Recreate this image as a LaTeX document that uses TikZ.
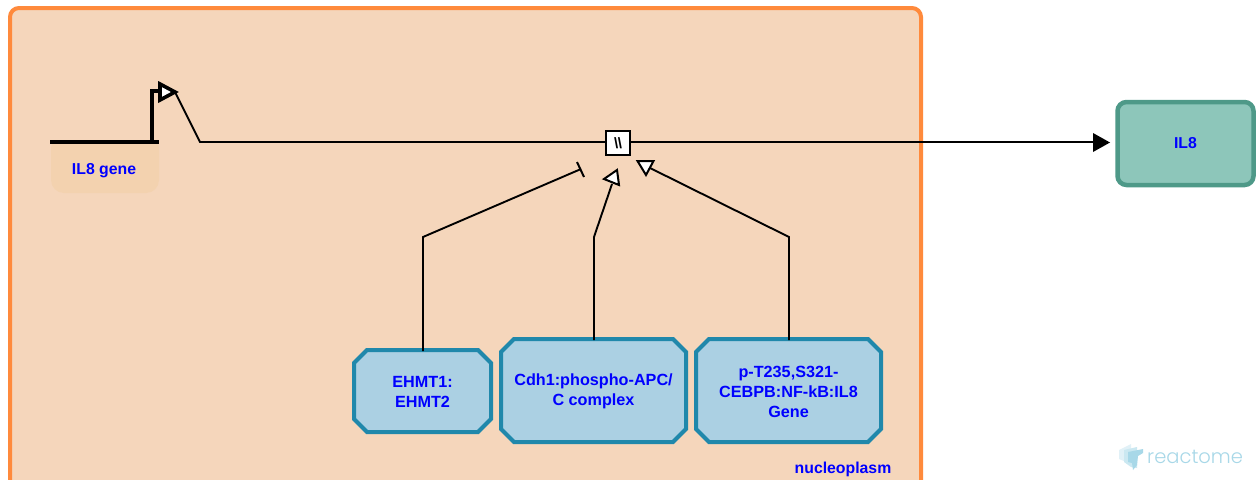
\documentclass[tikz,border=0pt]{standalone}
\usepackage{fontspec}
\setmainfont{Liberation Sans}
\newfontfamily\logofont[UprightFont=* Light]{Poppins}
\definecolor{compfill}{HTML}{F5D6BB}
\definecolor{compline}{HTML}{FF8A3C}
\definecolor{cplxfill}{HTML}{ABD0E3}
\definecolor{cplxline}{HTML}{2088AB}
\definecolor{protfill}{HTML}{8DC6BA}
\definecolor{protline}{HTML}{4E9988}
\definecolor{genefill}{HTML}{F3D2AF}
\definecolor{logoblue}{HTML}{A8D8E8}
\tikzset{
  x=1pt,y=-1pt,
  lbl/.style={font=\fontsize{15.8}{20}\selectfont\bfseries,text=blue,align=center,inner sep=0pt},
  cplxedge/.style={draw=cplxline,fill=cplxfill,line width=4pt,line join=miter},
  cplx/.style={rectangle,outer sep=0pt,inner sep=0pt,
    font=\fontsize{16.2}{20}\selectfont\bfseries,text=blue,align=center},
  prot/.style={rectangle,rounded corners=9pt,draw=protline,fill=protfill,line width=4.5pt,outer sep=0pt,
    font=\fontsize{15.8}{20}\selectfont\bfseries,text=blue,align=center},
  procbox/.style={rectangle,draw=black,fill=white,line width=2.2pt,minimum width=24pt,minimum height=24pt,inner sep=0pt,outer sep=0pt,font=\fontsize{15}{15}\selectfont\bfseries},
  conn/.style={draw=black,line width=1.9pt},
  head/.style={draw=black,fill=white,line width=2pt,line join=miter},
}
% name, centre x, centre y, width, height, text
\newcommand{\cplxnode}[6]{%
  \pgfmathsetmacro{\xa}{#2-#4/2}\pgfmathsetmacro{\xb}{#2+#4/2}%
  \pgfmathsetmacro{\ya}{#3-#5/2}\pgfmathsetmacro{\yb}{#3+#5/2}%
  \draw[cplxedge] (\xa+13,\ya) -- (\xb-13,\ya) -- (\xb,\ya+13) -- (\xb,\yb-13) -- (\xb-13,\yb) -- (\xa+13,\yb) -- (\xa,\yb-13) -- (\xa,\ya+13) -- cycle;
  \node[cplx,minimum width=#4 pt,minimum height=#5 pt] (#1) at (#2,#3+1) {#6};%
}
\begin{document}
\begin{tikzpicture}
\useasboundingbox (0,0) rectangle (1257,479);
\clip (0,0) rectangle (1257,479);
\fill[white] (0,0) rectangle (1257,479);
% compartment
\draw[compline,fill=compfill,line width=4pt,rounded corners=9pt] (10,8) rectangle (921,490);
\node[lbl] (comp) at (843,469) {nucleoplasm};
% gene
\fill[genefill,rounded corners=13pt] (51,135) -- (51,193) -- (159,193) -- (159,135) -- cycle;
\fill[compfill] (45,130) rectangle (165,142);
\node[lbl] (gene) at (104,171) {IL8 gene};
\coordinate (geneL) at (50,142);
\coordinate (geneR) at (159,142);
\coordinate (genePro) at (151.5,142);
\coordinate (flagBase) at (160,91);
\coordinate (flagTip) at (175,92);
\draw[black,line width=4pt] (geneL) -- (geneR);
\draw[black,line width=4pt,line join=miter] (genePro) -- (151.5,91) -- (flagBase);
\draw[black,fill=white,line width=3.6pt,line join=miter] (160,84) -- (flagTip) -- (160,100) -- cycle;
% nodes
\node[procbox] (proc) at (618,143) {\textbackslash\kern-0.5pt\textbackslash};
\node[prot,minimum width=136pt,minimum height=83pt] (il8) at (1185.5,143.5) {IL8};
\cplxnode{ehmt}{422.5}{391}{137}{82}{EHMT1:\\EHMT2}
\cplxnode{cdh}{593.5}{390.5}{185}{103}{Cdh1:phospho-APC/\\C complex}
\cplxnode{ceb}{788.5}{390.5}{185}{103}{p-T235,S321-\\CEBPB:NF-kB:IL8\\Gene}
% connectors
\coordinate (bend0) at (200,142);
\coordinate (arrowBase) at (1096,142);
\draw[conn] (flagTip) -- (bend0) -- (proc.west |- bend0);
\draw[conn] (proc.east |- arrowBase) -- (arrowBase);
\fill[black] (1093,133) -- (1110,142.5) -- (1093,152) -- cycle;
% inhibition
\coordinate (b1) at (423,237);
\coordinate (e1) at (581,169);
\draw[conn] (ehmt.north -| b1) -- (b1) -- (e1);
\draw[black,line width=2pt] (577,162) -- (584,177);
% catalysis 1
\coordinate (b2) at (594,237);
\coordinate (e2) at (612,184);
\draw[conn] (cdh.north -| b2) -- (b2) -- (e2);
\draw[head] (604,179) -- (617,170) -- (619,185) -- cycle;
% catalysis 2
\coordinate (b3) at (789,237);
\coordinate (e3) at (650,168);
\draw[conn] (ceb.north -| b3) -- (b3) -- (e3);
\draw[head] (637.5,161) -- (653.5,161) -- (646,175) -- cycle;
% logo
\fill[logoblue!35] (1119,450) -- (1131,444) -- (1131,464) -- (1119,459) -- cycle;
\fill[logoblue!60] (1124,450) -- (1137,447) -- (1137,468) -- (1131,467) -- (1124,462) -- cycle;
\fill[logoblue] (1128,452) -- (1143,449) -- (1143,453) -- (1138,456) -- (1137,465) -- (1133,470) -- (1132,463) -- (1128,462) -- cycle;
\node[font=\logofont\fontsize{19.5}{20}\selectfont,text=logoblue,inner sep=0pt,anchor=west] (logo) at (1147,457) {reactome};
\end{tikzpicture}
\end{document}
